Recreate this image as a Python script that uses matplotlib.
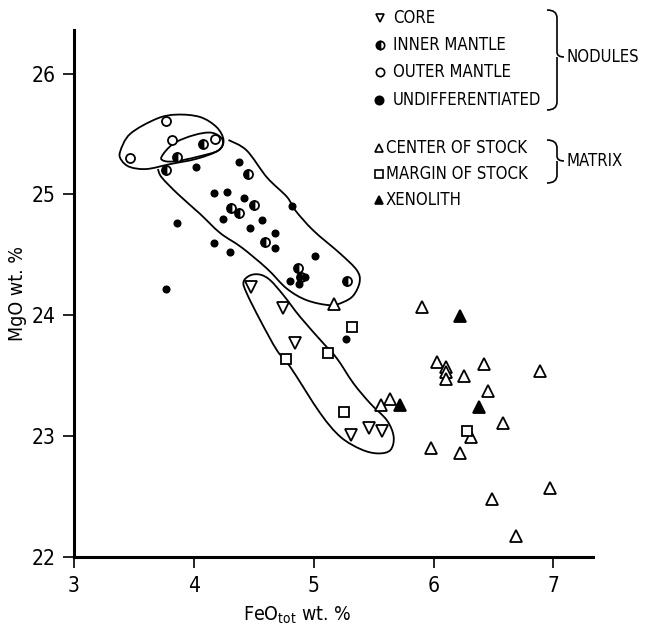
import numpy as np
import matplotlib
matplotlib.use("Agg")
import matplotlib.pyplot as plt
from matplotlib.path import Path
from matplotlib.patches import PathPatch
from matplotlib.lines import Line2D
from matplotlib.transforms import Affine2D

plt.rcParams['font.family'] = ['DejaVu Sans']
plt.rcParams['font.stretch'] = 'condensed'

# --- data (FeO_tot wt.%, MgO wt.%) ---
core_x = [4.48, 4.74, 4.84, 5.46, 5.57, 5.31]
core_y = [24.23, 24.06, 23.77, 23.07, 23.04, 23.01]

inner_x = [4.08, 3.86, 3.77, 4.45, 4.50, 4.31, 4.38, 4.59, 4.87, 4.89, 5.28]
inner_y = [25.42, 25.31, 25.20, 25.17, 24.91, 24.89, 24.85, 24.61, 24.39, 24.32, 24.28]

outer_x = [3.77, 3.82, 3.47, 4.18]
outer_y = [25.61, 25.45, 25.30, 25.46]

undiff_x = [4.02, 4.38, 4.17, 4.28, 4.42, 4.82, 4.24, 4.57, 4.47, 4.68,
            4.68, 3.86, 4.17, 4.30, 5.01, 3.77, 4.80, 4.93, 4.88, 5.27]
undiff_y = [25.23, 25.27, 25.01, 25.02, 24.97, 24.90, 24.80, 24.79, 24.72, 24.68,
            24.56, 24.76, 24.60, 24.52, 24.49, 24.22, 24.28, 24.32, 24.26, 23.80]

center_x = [5.17, 5.90, 5.56, 5.64, 6.03, 6.10, 6.10, 6.10, 6.25, 6.42,
            6.89, 6.45, 6.58, 6.31, 5.98, 6.22, 6.49, 6.97, 6.69]
center_y = [24.09, 24.07, 23.26, 23.31, 23.61, 23.57, 23.53, 23.47, 23.50, 23.60,
            23.54, 23.37, 23.11, 22.99, 22.90, 22.86, 22.48, 22.57, 22.17]

margin_x = [5.32, 5.12, 4.77, 5.25, 6.28]
margin_y = [23.90, 23.69, 23.64, 23.20, 23.04]

xeno_x = [5.72, 6.22, 6.38]
xeno_y = [23.26, 23.99, 23.24]

# outlines drawn around the groups
outer_loop_x = [3.384, 3.468, 3.69, 3.858, 4.052, 4.19, 4.247, 4.205, 4.025, 3.80, 3.607, 3.468, 3.398]
outer_loop_y = [25.35, 25.50, 25.626, 25.66, 25.64, 25.556, 25.45, 25.364, 25.295, 25.25, 25.21, 25.226, 25.28]

inner_loop_x = [3.73, 3.83, 4.0, 4.15, 4.24, 4.205, 4.025, 3.858, 3.76]
inner_loop_y = [25.31, 25.42, 25.49, 25.51, 25.45, 25.364, 25.31, 25.275, 25.275]

band_x = [3.70, 3.732, 3.87, 4.05, 4.22, 4.40, 4.61, 4.776, 4.943, 5.138, 5.249, 5.332,
          5.383, 5.36, 5.221, 4.998, 4.846, 4.776, 4.61, 4.44, 4.289]
band_y = [25.21, 25.14, 25.0, 24.84, 24.68, 24.56, 24.386, 24.22, 24.124, 24.083, 24.11, 24.165,
          24.275, 24.372, 24.51, 24.70, 24.868, 24.98, 25.14, 25.364, 25.45]

core_loop_x = [4.414, 4.47, 4.553, 4.637, 4.748, 4.887, 5.082, 5.194, 5.332, 5.472, 5.611,
               5.667, 5.639, 5.535, 5.397, 5.223, 5.054, 4.804, 4.693, 4.553, 4.442]
core_loop_y = [24.275, 24.33, 24.336, 24.29, 24.165, 23.986, 23.766, 23.642, 23.436, 23.27, 23.13,
               22.994, 22.884, 22.857, 22.89, 22.994, 23.19, 23.573, 23.71, 23.96, 24.18]

x_ticks = [3, 4, 5, 6, 7]
y_ticks = [22, 23, 24, 25, 26]


def smooth_path(xs, ys, closed=True):
    # Catmull-Rom through the points, written as cubic bezier pieces
    p = np.column_stack([xs, ys]).astype(float)
    if not closed:
        p = np.vstack([p[0], p, p[-1]])
    n = len(p)
    verts = []
    codes = []
    if closed:
        rng = range(n)
        get = lambda i: p[i % n]
        verts.append(p[0])
    else:
        rng = range(1, n - 2)
        get = lambda i: p[i]
        verts.append(p[1])
    codes.append(Path.MOVETO)
    for i in rng:
        p0, p1, p2, p3 = get(i - 1), get(i), get(i + 1), get(i + 2)
        verts += [p1 + (p2 - p0) / 6, p2 - (p3 - p1) / 6, p2]
        codes += [Path.CURVE4] * 3
    return Path(verts, codes)


W, H = 645, 627
fig = plt.figure(figsize=(W / 100, H / 100), dpi=100)
ax = fig.add_axes([74 / W, 70 / H, (593 - 74) / W, (557 - 30) / H])
ax.set_xlim(3, 7.33)
ax.set_ylim(22, 26.36)

for s in ['top', 'right']:
    ax.spines[s].set_visible(False)
for s in ['left', 'bottom']:
    ax.spines[s].set_linewidth(2.2)
ax.set_xticks(x_ticks)
ax.set_yticks(y_ticks)
ax.tick_params(direction='out', length=8, width=1.2, labelsize=15, pad=5)
ax.tick_params(axis='x', pad=6)

for lx, ly, closed in [(outer_loop_x, outer_loop_y, True), (inner_loop_x, inner_loop_y, True),
                       (band_x, band_y, False), (core_loop_x, core_loop_y, True)]:
    ax.add_patch(PathPatch(smooth_path(lx, ly, closed), fill=False, lw=1.3, ec='black', zorder=2))

kw = dict(ls='none', mec='black', mew=1.3, zorder=3)
ax.plot(core_x, core_y, marker='v', ms=8, mfc='white', **kw)
ax.plot(inner_x, inner_y, marker='o', ms=6.5, mfc='black', fillstyle='left', mfcalt='white', **kw)
ax.plot(outer_x, outer_y, marker='o', ms=6.5, mfc='white', **kw)
ax.plot(undiff_x, undiff_y, marker='o', ms=4.5, mfc='black', **kw)
ax.plot(center_x, center_y, marker='^', ms=8, mfc='white', **kw)
ax.plot(margin_x, margin_y, marker='s', ms=7, mfc='white', **kw)
ax.plot(xeno_x, xeno_y, marker='^', ms=8, mfc='black', **kw)

ax.set_xlabel('FeO$_{\\mathregular{tot}}$ wt. %', fontsize=14)
ax.set_ylabel('MgO wt. %', fontsize=14)
ax.xaxis.set_label_coords(0.43, -0.09)
ax.yaxis.set_label_coords(-0.09, 0.5)

# legend block, placed in figure pixels (y down)
px = Affine2D().scale(1 / W, -1 / H).translate(0, 1) + fig.transFigure
entries = [
    ('v', 'white', 'full', 380, 393, 18, 'CORE'),
    ('o', 'black', 'left', 380, 393, 45, 'INNER MANTLE'),
    ('o', 'white', 'full', 380, 393, 72, 'OUTER MANTLE'),
    ('o', 'black', 'full', 379, 393, 100, 'UNDIFFERENTIATED'),
    ('^', 'white', 'full', 379, 386, 148, 'CENTER OF STOCK'),
    ('s', 'white', 'full', 379, 386, 174, 'MARGIN OF STOCK'),
    ('^', 'black', 'full', 379, 386, 200, 'XENOLITH'),
]
for m, fc, fs, mx, tx, ty, lab in entries:
    fig.add_artist(Line2D([mx], [ty], transform=px, marker=m, ms=6, mfc=fc, mec='black',
                          mew=1.2, fillstyle=fs, markerfacecoloralt='white', ls='none'))
    fig.text(tx / W, 1 - ty / H, lab, fontsize=12, va='center', ha='left')


def brace(top, bot, mid, x0=547, x1=557, tip=564):
    v = [(x0, top), (x1, top), (x1, top + 8), (x1, mid - 5), (x1, mid), (tip, mid),
         (x1, mid), (x1, mid + 5), (x1, bot - 8), (x1, bot), (x0, bot)]
    c = [Path.MOVETO, Path.CURVE3, Path.CURVE3, Path.LINETO, Path.CURVE3, Path.CURVE3,
         Path.MOVETO, Path.CURVE3, Path.LINETO, Path.CURVE3, Path.CURVE3]
    fig.add_artist(PathPatch(Path(v, c), transform=px, fill=False, lw=1.2, ec='black'))


brace(10, 110, 57)
brace(140, 183, 161)
fig.text(566 / W, 1 - 57 / H, 'NODULES', fontsize=12, va='center', ha='left')
fig.text(566 / W, 1 - 161 / H, 'MATRIX', fontsize=12, va='center', ha='left')

fig.savefig('out.png', dpi=100)
